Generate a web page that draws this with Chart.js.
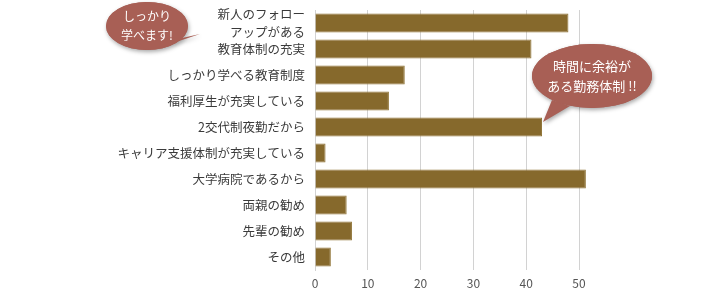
<!DOCTYPE html>
<html>
<head>
<meta charset="utf-8">
<script src="https://cdn.jsdelivr.net/npm/chart.js@4/dist/chart.umd.min.js"></script>
<style>
  html, body { margin: 0; padding: 0; background: #fff; }
  #wrap { width: 720px; height: 290px; position: relative; }
</style>
</head>
<body>
<div id="wrap"><canvas id="chart" width="720" height="290"></canvas></div>
<script>
const categories = [
  ["新人のフォロー", "アップがある"],
  "教育体制の充実",
  "しっかり学べる教育制度",
  "福利厚生が充実している",
  "2交代制夜勤だから",
  "キャリア支援体制が充実している",
  "大学病院であるから",
  "両親の勧め",
  "先輩の勧め",
  "その他"
];
const counts = [48, 41, 17, 14, 43, 2, 51.3, 6, 7, 3];
const xTicks = [0, 10, 20, 30, 40, 50];

const bubbles = [
  { cx: 147, cy: 26, rx: 41, ry: 24, tail: [[170, 44], [200, 34], [182, 38]], lines: ["しっかり", "学べます!"], size: 12 },
  { cx: 592, cy: 76, rx: 60, ry: 32, tail: [[552, 100], [543, 122], [570, 106]], lines: ["時間に余裕が", "ある勤務体制 !!"], size: 13 }
];

const FONT = "'Noto Sans CJK JP', 'Noto Sans', sans-serif";

const bubblePlugin = {
  id: "bubbles",
  afterDraw(chart) {
    const ctx = chart.ctx;
    bubbles.forEach(b => {
      ctx.save();
      ctx.shadowColor = "rgba(0,0,0,0.35)";
      ctx.shadowBlur = 4;
      ctx.shadowOffsetX = 1;
      ctx.shadowOffsetY = 2;
      ctx.fillStyle = "#a85f55";
      ctx.beginPath();
      ctx.ellipse(b.cx, b.cy, b.rx, b.ry, 0, 0, Math.PI * 2);
      ctx.fill();
      ctx.beginPath();
      ctx.moveTo(b.tail[0][0], b.tail[0][1]);
      ctx.lineTo(b.tail[1][0], b.tail[1][1]);
      ctx.lineTo(b.tail[2][0], b.tail[2][1]);
      ctx.closePath();
      ctx.fill();
      ctx.restore();
      ctx.save();
      ctx.fillStyle = "#a85f55";
      ctx.beginPath();
      ctx.ellipse(b.cx, b.cy, b.rx, b.ry, 0, 0, Math.PI * 2);
      ctx.fill();
      ctx.fillStyle = "#ffffff";
      ctx.font = b.size + "px " + FONT;
      ctx.textAlign = "center";
      ctx.textBaseline = "middle";
      const lh = b.size + 7;
      b.lines.forEach((t, i) => {
        ctx.fillText(t, b.cx, b.cy + (i - (b.lines.length - 1) / 2) * lh);
      });
      ctx.restore();
    });
  }
};

new Chart(document.getElementById("chart"), {
  type: "bar",
  data: {
    labels: categories,
    datasets: [{
      data: counts,
      backgroundColor: "#86692c",
      borderColor: "#8f7335",
      borderWidth: 1,
      borderSkipped: "start",
      categoryPercentage: 0.73,
      barPercentage: 1,
      clip: false
    }]
  },
  options: {
    indexAxis: "y",
    responsive: false,
    animation: false,
    layout: { padding: { top: 10, right: 141, bottom: 0, left: 0 } },
    scales: {
      x: {
        min: 0,
        max: 50,
        afterBuildTicks(axis) { axis.ticks = xTicks.map(v => ({ value: v })); },
        afterFit(axis) { axis.height = 20; axis.paddingLeft = 0; axis.paddingRight = 0; },
        grid: { color: "#d2d2d2", drawTicks: false },
        border: { display: false },
        ticks: { color: "#555", font: { family: FONT, size: 12 }, padding: 6 }
      },
      y: {
        afterFit(axis) { axis.width = 315; axis.paddingTop = 0; axis.paddingBottom = 0; },
        grid: { display: false, drawTicks: false },
        border: { display: true, color: "#d2d2d2" },
        ticks: { color: "#3a3a3a", font: { family: FONT, size: 12.5, lineHeight: 1.4 }, padding: 10, autoSkip: false }
      }
    },
    plugins: {
      legend: { display: false },
      tooltip: { enabled: false }
    }
  },
  plugins: [bubblePlugin]
});
</script>
</body>
</html>
